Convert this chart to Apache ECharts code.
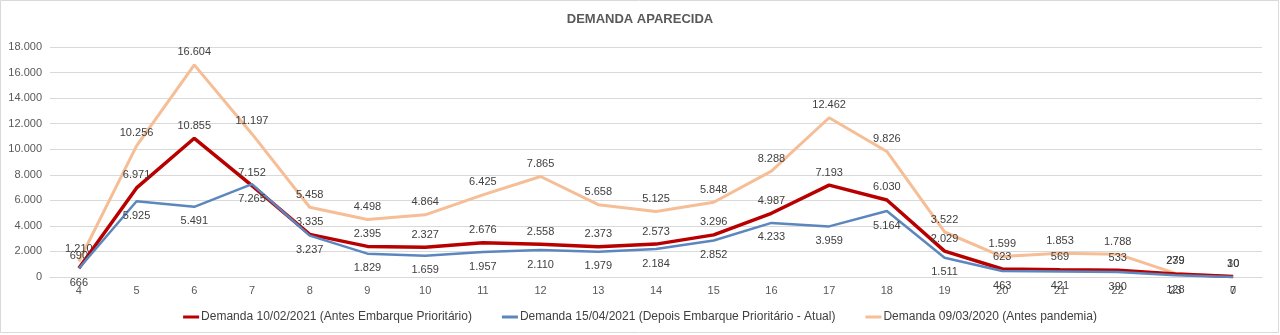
<!DOCTYPE html>
<html>
<head>
<meta charset="utf-8">
<script src="https://cdn.jsdelivr.net/npm/echarts@6/dist/echarts.min.js"></script>
<style>
html,body{margin:0;padding:0;background:#fff;}
#chart{width:1280px;height:335px;}
</style>
</head>
<body>
<div id="chart"></div>
<script>
const categories = ['4','5','6','7','8','9','10','11','12','13','14','15','16','17','18','19','20','21','22','23','0'];
const demanda2021Fev = [690, 6971, 10855, 7152, 3335, 2395, 2327, 2676, 2558, 2373, 2573, 3296, 4987, 7193, 6030, 2029, 623, 569, 533, 239, 30];
const demanda2021Abr = [666, 5925, 5491, 7265, 3237, 1829, 1659, 1957, 2110, 1979, 2184, 2852, 4233, 3959, 5164, 1511, 463, 421, 390, 128, 7];
const demanda2020Mar = [1210, 10256, 16604, 11197, 5458, 4498, 4864, 6425, 7865, 5658, 5125, 5848, 8288, 12462, 9826, 3522, 1599, 1853, 1788, 279, 10];
const seriesNames = ['Demanda 10/02/2021 (Antes Embarque Prioritário)', 'Demanda 15/04/2021 (Depois Embarque Prioritário - Atual)', 'Demanda 09/03/2020 (Antes pandemia)'];

const fmt = v => {
  const n = Math.round(v);
  return n.toString().replace(/\B(?=(\d{3})+(?!\d))/g, '.');
};
const FONT = '"Liberation Sans", Arial, sans-serif';
const labelStyle = (pos, dist) => ({
  show: true, position: pos, distance: dist, color: '#404040', fontSize: 11, fontFamily: FONT,
  formatter: p => fmt(p.value)
});

const chart = echarts.init(document.getElementById('chart'), null, {renderer: 'canvas'});
chart.setOption({
  animation: false,
  backgroundColor: '#fff',
  title: {
    text: 'DEMANDA APARECIDA', left: 'center', top: 8,
    textStyle: {color: '#595959', fontSize: 13, fontWeight: 'bold', fontFamily: FONT}
  },
  graphic: [{
    type: 'rect', shape: {x: 0.5, y: 0.5, width: 1278, height: 332},
    style: {fill: 'none', stroke: '#d9d9d9', lineWidth: 1}, silent: true, z: -1
  }],
  legend: {
    bottom: 7, left: 'center', itemGap: 30, itemWidth: 16, itemHeight: 3, icon: 'rect',
    textStyle: {color: '#404040', fontSize: 12, fontFamily: FONT, padding: [0,0,0,-3]},
    data: seriesNames
  },
  grid: {left: 50, right: 18, top: 47, bottom: 58, containLabel: false},
  xAxis: {
    type: 'category', data: categories, boundaryGap: true,
    axisLine: {show: true, lineStyle: {color: '#d9d9d9'}},
    axisTick: {show: false},
    axisLabel: {color: '#595959', fontSize: 11, fontFamily: FONT, margin: 8}
  },
  yAxis: {
    type: 'value', min: 0, max: 18000, interval: 2000,
    axisLine: {show: false}, axisTick: {show: false},
    splitLine: {lineStyle: {color: '#d9d9d9'}},
    axisLabel: {color: '#595959', fontSize: 11, fontFamily: FONT, margin: 8, formatter: v => fmt(v)}
  },
  series: [
    {
      name: seriesNames[0], type: 'line', data: demanda2021Fev, symbol: 'circle', symbolSize: 0, showSymbol: true,
      lineStyle: {color: '#B80000', width: 3.5}, itemStyle: {color: '#B80000'},
      label: labelStyle('top', 7), z: 2
    },
    {
      name: seriesNames[1], type: 'line', data: demanda2021Abr, symbol: 'circle', symbolSize: 0, showSymbol: true,
      lineStyle: {color: '#5B87BE', width: 2.5}, itemStyle: {color: '#5B87BE'},
      label: labelStyle('bottom', 9), z: 3
    },
    {
      name: seriesNames[2], type: 'line', data: demanda2020Mar, symbol: 'circle', symbolSize: 0, showSymbol: true,
      lineStyle: {color: '#F5BE96', width: 3}, itemStyle: {color: '#F5BE96'},
      label: labelStyle('top', 7), z: 1
    }
  ]
});
</script>
</body>
</html>
